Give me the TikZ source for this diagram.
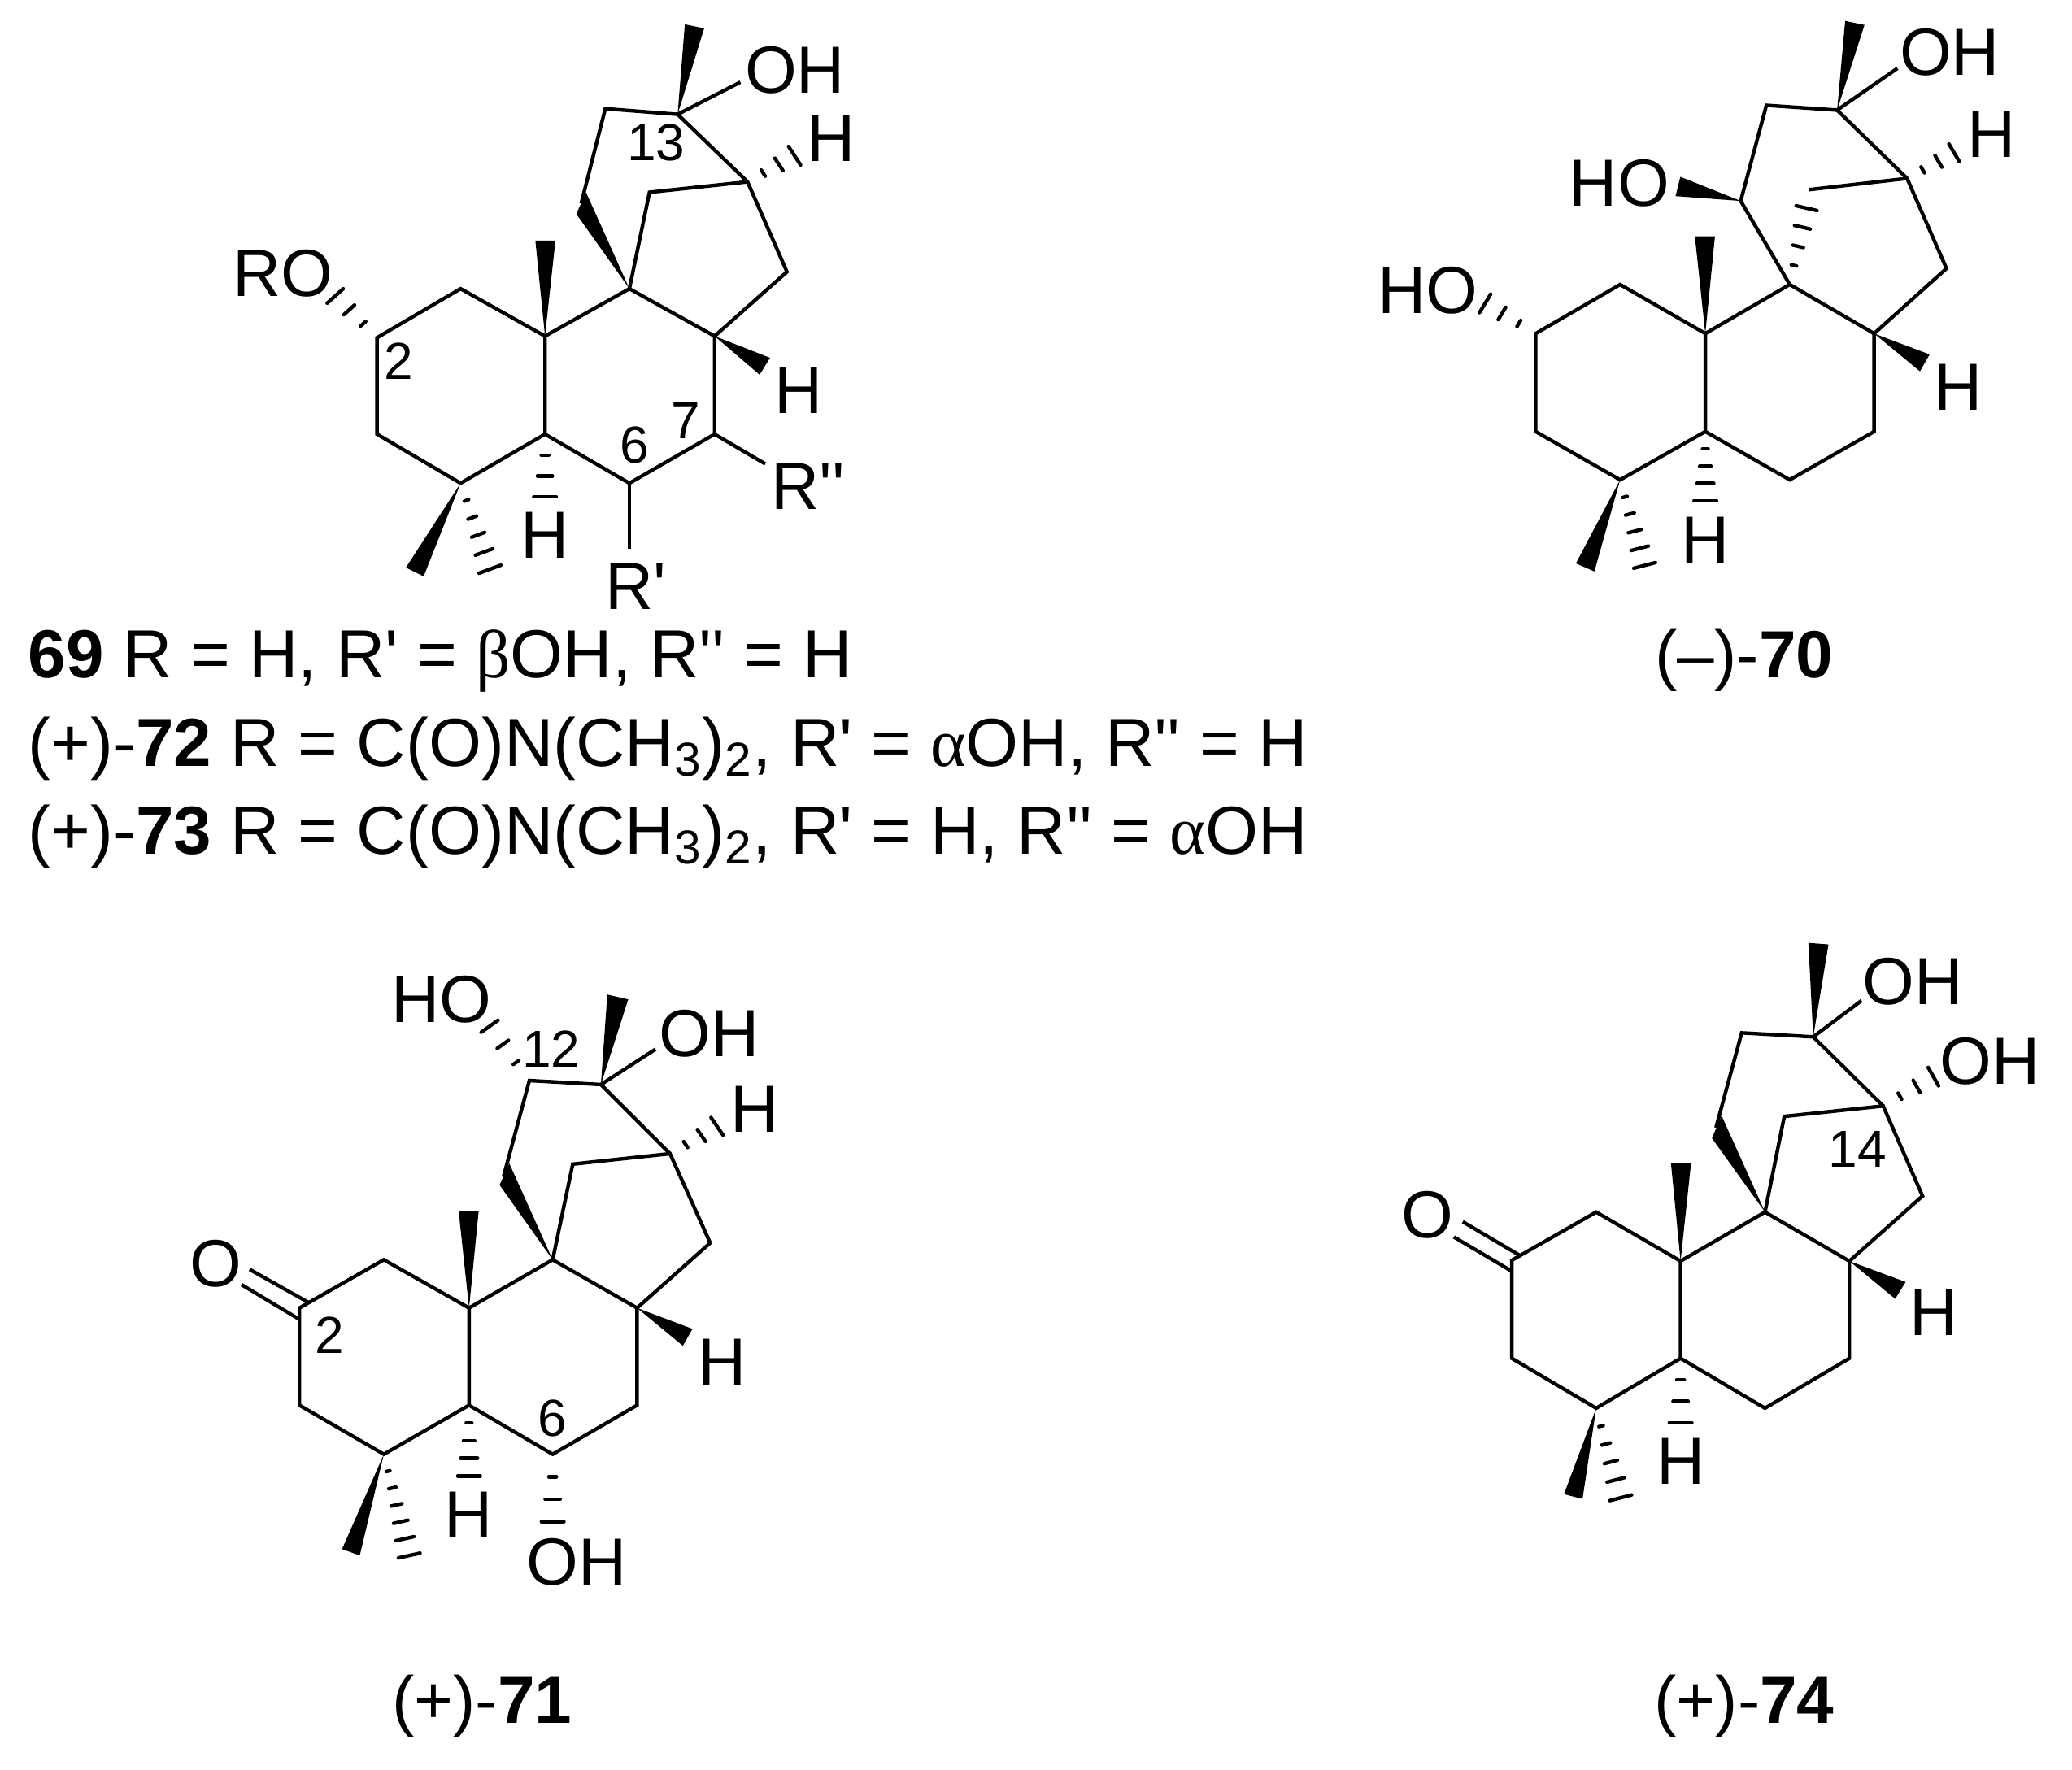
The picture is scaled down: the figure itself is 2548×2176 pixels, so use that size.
\documentclass[tikz,border=0pt]{standalone}
\usepackage{fontspec}
\usepackage{tikz}
\usetikzlibrary{calc}
\newfontfamily\chemfont{Liberation Sans}
\newfontfamily\greekfont{Liberation Serif}
\newcommand{\wedgebond}[3]{\fill (#1) -- (#2) -- (#3) -- cycle;}
\newcommand{\hashbond}[4]{%
  \foreach \i in {1,...,#4} {
    \pgfmathsetmacro{\t}{\i/#4}
    \draw[hashline] ($(#1)!\t!(#2)$) -- ($(#1)!\t!(#3)$);
  }}
\newcommand{\drawrings}[1]{\draw[bond] (#1c5) -- (#1c10) -- (#1c1) -- (#1c2) -- (#1c3) -- (#1c4) -- (#1c5)
  -- (#1c6) -- (#1c7) -- (#1c8) -- (#1c9) -- (#1c10);}

\begin{document}
\begin{tikzpicture}[x=0.25pt,y=-0.25pt,
  bond/.style={line width=1.1pt},
  hashline/.style={line width=1.1pt,line cap=round},
  atom/.style={inner sep=0pt,font=\chemfont\fontsize{20.5}{24}\selectfont},
  locant/.style={inner sep=0pt,font=\chemfont\fontsize{16}{19}\selectfont},
  caption/.style={inner sep=0pt,anchor=base,font=\chemfont\fontsize{20.5}{24}\selectfont},
  legend/.style={inner sep=0pt,anchor=base west,font=\chemfont\fontsize{20.9}{24}\selectfont},
  molecule/.style 2 args={shift={(#1,#2)},scale=0.9885,shift={(-#1,-#2)}}]
\useasboundingbox (0,0) rectangle (2548,2176);

  % compound 69
  \begin{scope}[molecule={260}{20}]
  \foreach \n/\x/\y in {c1/570/359,c2/466/420,c3/466/540,c4/570/601,c5/675/540,c6/780/601,c7/886/540,
      c8/886/418,c9/780/359,c10/675/418,c11/720/253,c12/750/135,c13/840/142,c14/927/226,c15/976/338,
      br/805/239,me1/849/30,me2/873/35,oe/918/102,
      mea/663/299,meb/688/299,wa/714/266,wb/726/239,
      ha/955/445,hb/942/466,hha/978/182,hhb/993/205,
      roa/404/377,rob/424/359,
      ra/780/683,rb/949/577,
      h5a/661/618,h5b/689/618,
      m4a/502/706,m4b/524/717,m4c/593/713,m4d/620/703}
    \coordinate (a\n) at (\x,\y);
  \drawrings{a}
  \draw[bond] (ac9) -- (abr) -- (ac14) -- (ac15) -- (ac8);
  \draw[bond] (ac11) -- (ac12) -- (ac13) -- (ac14);
  \draw[bond] (ac13) -- (aoe);
  \draw[bond] (ac6) -- (ara);
  \draw[bond] (ac7) -- (arb);
  \wedgebond{ac13}{ame1}{ame2}
  \wedgebond{ac10}{amea}{ameb}
  \wedgebond{ac9}{awa}{awb}
  \wedgebond{ac8}{aha}{ahb}
  \wedgebond{ac4}{am4a}{am4b}
  \hashbond{ac14}{ahha}{ahhb}{3}
  \hashbond{ac2}{aroa}{arob}{3}
  \hashbond{ac5}{ah5a}{ah5b}{3}
  \hashbond{ac4}{am4c}{am4d}{5}
  \node[atom] (aoh) at (986,87) {OH};
  \node[atom] (ah14) at (1031,172) {H};
  \node[atom] (ah8) at (990,486) {H};
  \node[atom] (ah5) at (675,666) {H};
  \node[atom] (aro) at (349,340) {RO};
  \node[atom] (arr) at (1002,605) {R''};
  \node[atom] (arp) at (788,729) {R'};
  \node[locant] (al2) at (493,449) {2};
  \node[locant] (al13) at (813,177) {13};
  \node[locant] (al7) at (850,523) {7};
  \node[locant] (al6) at (786,554) {6};
  \end{scope}

  % legend lines
  \node[legend] (line1) at (34,833) {\textbf{69} R = H, R' = {\greekfont β}OH, R'' = H};
  \node[legend] (line2) at (34,942) {(+)-\textbf{72} R = C(O)N(CH\textsubscript{3})\textsubscript{2}, R' = {\greekfont α}OH, R'' = H};
  \node[legend] (line3) at (34,1050) {(+)-\textbf{73} R = C(O)N(CH\textsubscript{3})\textsubscript{2}, R' = H, R'' = {\greekfont α}OH};

  % compound 70
  \begin{scope}[molecule={1680}{0}]
  \foreach \n/\x/\y in {c1/1996/354,c2/1891/415,c3/1891/537,c4/1996/597,c5/2102/537,c6/2207/597,c7/2312/537,
      c8/2312/415,c9/2207/354,c10/2102/415,c11/2146/250,c12/2178/131,c13/2266/137,c14/2353/222,c15/2402/334,
      br/2231/236,me1/2276/26,me2/2300/31,oe/2341/85,
      mea/2089/294,meb/2114/294,hoa/2071/220,hob/2065/244,
      bha/2215/256,bhb/2241/262,
      ha/2381/441,hb/2369/462,hha/2405/179,hhb/2418/201,
      roa/1835/366,rob/1821/389,
      h5a/2088/623,h5b/2116/623,
      m4a/1941/701,m4b/1964/711,m4c/2013/707,m4d/2040/700}
    \coordinate (b\n) at (\x,\y);
  \drawrings{b}
  \draw[bond] (bc9) -- (bc11) -- (bc12) -- (bc13) -- (bc14) -- (bc15) -- (bc8);
  \draw[bond] (bbr) -- (bc14);
  \draw[bond] (bc13) -- (boe);
  \wedgebond{bc13}{bme1}{bme2}
  \wedgebond{bc10}{bmea}{bmeb}
  \wedgebond{bc11}{bhoa}{bhob}
  \wedgebond{bc8}{bha}{bhb}
  \wedgebond{bc4}{bm4a}{bm4b}
  \hashbond{bc9}{bbha}{bbhb}{4}
  \hashbond{bc14}{bhha}{bhhb}{3}
  \hashbond{bc2}{broa}{brob}{3}
  \hashbond{bc5}{bh5a}{bh5b}{4}
  \hashbond{bc4}{bm4c}{bm4d}{5}
  \node[atom] (boh) at (2406,65) {OH};
  \node[atom] (bh14) at (2458,167) {H};
  \node[atom] (bh8) at (2417,482) {H};
  \node[atom] (bh5) at (2102,672) {H};
  \node[atom] (bho) at (1995,228) {HO};
  \node[atom] (bro) at (1757,361) {HO};
  \end{scope}
  \node[caption] (cap70) at (2145,833) {(–)-\textbf{70}};

  % compound 71
  \begin{scope}[molecule={220}{1160}]
  \foreach \n/\x/\y in {c1/475/1554,c2/370/1614,c3/370/1735,c4/475/1796,c5/581/1735,c6/685/1796,c7/790/1735,
      c8/790/1614,c9/685/1554,c10/581/1614,c11/624/1450,c12/656/1331,c13/745/1336,c14/831/1422,c15/881/1533,
      br/710/1435,me1/753/1224,me2/779/1230,oe/813/1292,
      mea/568/1493,meb/593/1493,wa/619/1461,wb/631/1434,
      ha/859/1640,hb/847/1661,hha/882/1377,hhb/897/1399,
      hoa/596/1271,hob/617/1256,
      d1a/308/1566,d1b/381/1607,d2a/298/1585,d2b/368/1627,
      h5a/567/1823,h5b/595/1823,
      o6a/671/1880,o6b/699/1880,
      m4a/423/1914,m4b/445/1922,m4c/493/1925,m4d/520/1919}
    \coordinate (c\n) at (\x,\y);
  \drawrings{c}
  \draw[bond] (cc9) -- (cbr) -- (cc14) -- (cc15) -- (cc8);
  \draw[bond] (cc11) -- (cc12) -- (cc13) -- (cc14);
  \draw[bond] (cc13) -- (coe);
  \draw[bond] (cd1a) -- (cd1b);
  \draw[bond] (cd2a) -- (cd2b);
  \wedgebond{cc13}{cme1}{cme2}
  \wedgebond{cc10}{cmea}{cmeb}
  \wedgebond{cc9}{cwa}{cwb}
  \wedgebond{cc8}{cha}{chb}
  \wedgebond{cc4}{cm4a}{cm4b}
  \hashbond{cc14}{chha}{chhb}{3}
  \hashbond{cc12}{choa}{chob}{3}
  \hashbond{cc5}{ch5a}{ch5b}{4}
  \hashbond{cc6}{co6a}{co6b}{3}
  \hashbond{cc4}{cm4c}{cm4d}{6}
  \node[atom] (coh) at (880,1273) {OH};
  \node[atom] (ch14) at (936,1367) {H};
  \node[atom] (ch8) at (896,1681) {H};
  \node[atom] (ch5) at (580,1871) {H};
  \node[atom] (coh6) at (715,1930) {OH};
  \node[atom] (cho) at (547,1230) {HO};
  \node[atom] (co) at (266,1559) {O};
  \node[locant] (cl12) at (683,1292) {12};
  \node[locant] (cl2) at (407,1648) {2};
  \node[locant] (cl6) at (685,1751) {6};
  \end{scope}
  \node[caption] (cap71) at (593,2119) {(+)-\textbf{71}};

  % compound 74
  \begin{scope}[molecule={1700}{1130}]
  \foreach \n/\x/\y in {c1/1966/1495,c2/1861/1555,c3/1861/1677,c4/1966/1739,c5/2071/1677,c6/2176/1739,c7/2281/1677,
      c8/2281/1556,c9/2176/1495,c10/2071/1556,c11/2115/1390,c12/2147/1272,c13/2236/1277,c14/2323/1363,c15/2372/1475,
      br/2200/1376,me1/2230/1160,me2/2255/1162,oe/2296/1232,
      mea/2059/1434,meb/2084/1434,wa/2110/1403,wb/2122/1375,
      ha/2351/1582,hb/2338/1603,hha/2379/1315,hhb/2392/1338,
      d1a/1800/1507,d1b/1871/1549,d2a/1789/1526,d2b/1860/1568,
      h5a/2057/1757,h5b/2085/1757,
      m4a/1926/1846,m4b/1949/1852,m4c/1983/1854,m4d/2010/1847}
    \coordinate (d\n) at (\x,\y);
  \drawrings{d}
  \draw[bond] (dc9) -- (dbr) -- (dc14) -- (dc15) -- (dc8);
  \draw[bond] (dc11) -- (dc12) -- (dc13) -- (dc14);
  \draw[bond] (dc13) -- (doe);
  \draw[bond] (dd1a) -- (dd1b);
  \draw[bond] (dd2a) -- (dd2b);
  \wedgebond{dc13}{dme1}{dme2}
  \wedgebond{dc10}{dmea}{dmeb}
  \wedgebond{dc9}{dwa}{dwb}
  \wedgebond{dc8}{dha}{dhb}
  \wedgebond{dc4}{dm4a}{dm4b}
  \hashbond{dc14}{dhha}{dhhb}{3}
  \hashbond{dc5}{dh5a}{dh5b}{3}
  \hashbond{dc4}{dm4c}{dm4d}{5}
  \node[atom] (doh) at (2360,1208) {OH};
  \node[atom] (doh14) at (2456,1307) {OH};
  \node[atom] (dh8) at (2386,1620) {H};
  \node[atom] (dh5) at (2071,1805) {H};
  \node[atom] (do) at (1756,1498) {O};
  \node[locant] (dl14) at (2291,1417) {14};
  \end{scope}
  \node[caption] (cap74) at (2145,2119) {(+)-\textbf{74}};
\end{tikzpicture}
\end{document}
